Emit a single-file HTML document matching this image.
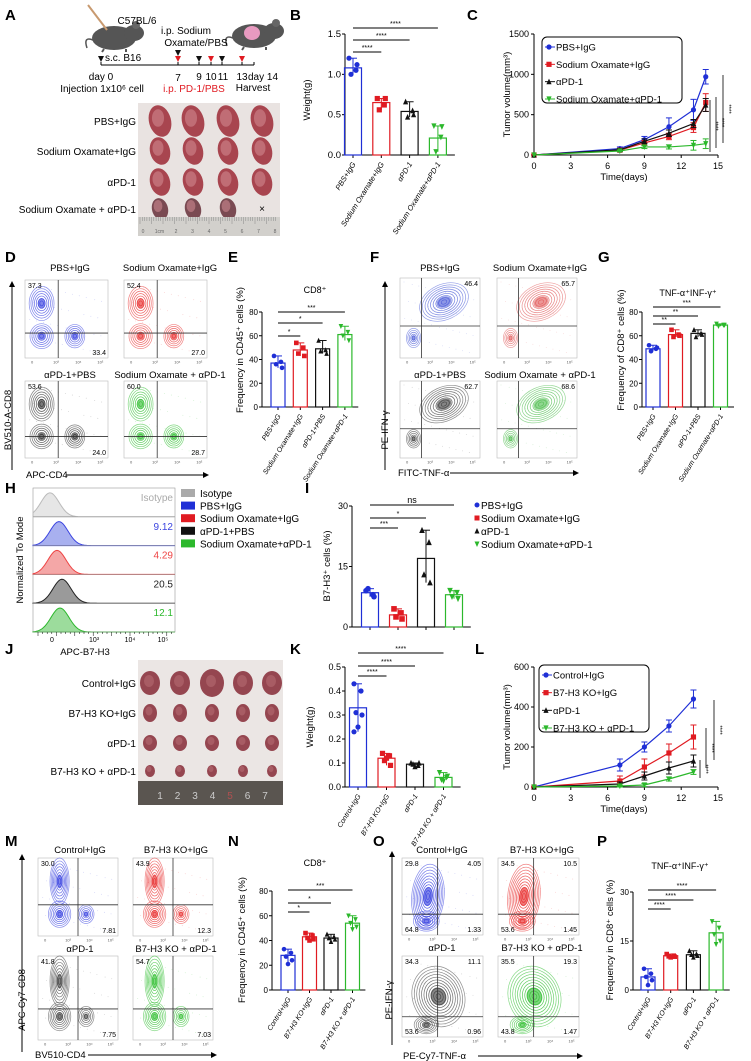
<!DOCTYPE html>
<html><head><meta charset="utf-8">
<style>
html,body{margin:0;padding:0;background:#fff;}
svg{display:block;font-family:"Liberation Sans",Arial,sans-serif;}
</style></head>
<body>
<svg id="fig" width="751" height="1061" viewBox="0 0 751 1061">
<defs>
<marker id="arr" markerWidth="6" markerHeight="6" refX="5" refY="3" orient="auto"><path d="M0,0 L6,3 L0,6 z" fill="#000"/></marker>
</defs>
</svg>
<script>
// ---------- DATA ----------
const colorsAll=['#1f2fd6','#e01b22','#111111','#2cb82c'];
const bCats=['PBS+IgG','Sodium Oxamate+IgG','αPD-1','Sodium Oxamate+αPD-1'];
const bValues=[1.08,0.65,0.54,0.21];
const bPoints=[[1.2,1.05,1.0,1.12],[0.7,0.62,0.56,0.7],[0.66,0.55,0.47,0.5],[0.36,0.22,0.04,0.35]];
const bTicks=[0,0.5,1.0,1.5];
const cDays=[0,7,9,11,13,14];
const cNames=['PBS+IgG','Sodium Oxamate+IgG','αPD-1','Sodium Oxamate+αPD-1'];
const cVals=[[0,80,190,350,560,970],[0,60,150,230,340,650],[0,65,170,270,390,620],[0,50,100,100,120,140]];
const cErr=[[0,20,40,110,130,90],[0,15,30,40,60,110],[0,15,30,40,50,80],[0,10,20,25,60,60]];
const cTicksY=[0,500,1000,1500];
const xTicks=[0,3,6,9,12,15];
const eCats=['PBS+IgG','Sodium Oxamate+IgG','αPD-1+PBS','Sodium Oxamate+αPD-1'];
const eValues=[37,48,49,61];
const ePoints=[[43,38,36,33],[54,50,45,43],[56,48,47,45],[68,63,60,56]];
const gValues=[49,61,62,69];
const gPoints=[[52,49,47,50],[65,61,59,60],[65,62,59,61],[70,69,68,69]];
const ticks80=[0,20,40,60,80];
const iValues=[8.5,3.0,17,8.0];
const iPoints=[[9,8,9.5,7.5],[4.5,3.5,2.5,2],[24,21,13,11],[9,8.5,7.5,7]];
const iTicks=[0,15,30];
const kCats=['Control+IgG','B7-H3 KO+IgG','αPD-1','B7-H3 KO + αPD-1'];
const kValues=[0.33,0.12,0.095,0.04];
const kPoints=[[0.43,0.4,0.31,0.3,0.25,0.23],[0.14,0.13,0.11,0.09,0.12],[0.1,0.09,0.095,0.1,0.085],[0.06,0.04,0.03,0.045,0.025]];
const kTicks=[0,0.1,0.2,0.3,0.4,0.5];
const lDays=[0,7,9,11,13];
const lNames=['Control+IgG','B7-H3 KO+IgG','αPD-1','B7-H3 KO + αPD-1'];
const lVals=[[0,110,200,305,440],[0,30,100,170,250],[0,15,55,95,130],[0,5,10,40,75]];
const lErr=[[0,30,25,30,45],[0,25,40,45,60],[0,10,20,30,30],[0,5,8,10,12]];
const lTicksY=[0,200,400,600];
const nValues=[28,43,42,54];
const nPoints=[[33,30,27,24,21],[46,44,42,41,40],[45,43,42,41,39],[60,57,54,51,49]];
const pValues=[4,10.5,10.8,17.5];
const pPoints=[[6.5,5,4,3,1.5],[11,10.5,10.3,10.2,10],[12,11,10.8,10.5,10],[21,19,17,15,14]];
const pTicks=[0,15,30];
const hLabels=['Isotype','9.12','4.29','20.5','12.1'];
const hColors=['#bbbbbb','#3b44e0','#ee4444','#222222','#2cb82c'];
const hFills=['#e6e6e6','#a8b0ef','#f4a7a7','#9a9a9a','#9cdc9c'];
// ---------- HELPERS ----------
const S='http://www.w3.org/2000/svg';
const svg=document.getElementById('fig');
function el(tag,attrs,parent,txt){const e=document.createElementNS(S,tag);for(const k in attrs)e.setAttribute(k,attrs[k]);if(txt!=null)e.textContent=txt;(parent||svg).appendChild(e);return e;}
function grp(name){const g=el('g',{});


return g;}
function txt(g,x,y,s,opt){opt=opt||{};const t=el('text',{x:x,y:y,'font-size':opt.fs||9,'text-anchor':opt.a||'start',fill:opt.c||'#000','font-weight':opt.w||'normal','font-style':opt.i||'normal',transform:opt.r?`rotate(${opt.r} ${x} ${y})`:''},g,s);return t;}
function panel(l,x,y){const g=grp('panel-label-'+l.toLowerCase());txt(g,x,y,l,{fs:15,w:'bold'});}
function marker(g,i,x,y,c,s){s=s||2.8;
 if(i===0)el('circle',{cx:x,cy:y,r:s,fill:c},g);
 else if(i===1)el('rect',{x:x-s,y:y-s,width:2*s,height:2*s,fill:c},g);
 else if(i===2)el('path',{d:`M${x},${y-s-0.5}L${x+s},${y+s}L${x-s},${y+s}z`,fill:c},g);
 else el('path',{d:`M${x},${y+s+0.5}L${x+s},${y-s}L${x-s},${y-s}z`,fill:c},g);}
function barChart(o){
 const g=grp(o.name);
 const ys=v=>o.y0-(v/o.vMax)*(o.y0-o.yTop);
 const cx=i=>o.x0+o.step*i;
 el('line',{x1:o.ax,y1:o.yTop,x2:o.ax,y2:o.y0,stroke:'#000','stroke-width':1},g);
 el('line',{x1:o.ax,y1:o.y0,x2:cx(o.values.length-1)+o.step*0.6,y2:o.y0,stroke:'#000','stroke-width':1},g);
 o.ticks.forEach(t=>{el('line',{x1:o.ax-3,y1:ys(t),x2:o.ax,y2:ys(t),stroke:'#000'},g);txt(g,o.ax-4,ys(t)+3,o.fmt(t),{fs:o.tfs||8.5,a:'end'});});
 o.values.forEach((v,i)=>{
  const c=colorsAll[i];
  el('line',{x1:cx(i),y1:o.y0,x2:cx(i),y2:o.y0+3,stroke:'#000'},g);
  const b=el('rect',{x:cx(i)-o.bw/2,y:ys(v),width:o.bw,height:o.y0-ys(v),fill:'none',stroke:c,'stroke-width':1.2},g);
  
  
  const p=o.points[i];const mx=Math.max(...p),mn=Math.min(...p);
  el('line',{x1:cx(i),y1:ys(mx),x2:cx(i),y2:ys(mn),stroke:c,'stroke-width':1},g);
  el('line',{x1:cx(i)-4,y1:ys(mx),x2:cx(i)+4,y2:ys(mx),stroke:c},g);
  const off=[-4,3,-2,4,0,-4];
  p.forEach((pv,j)=>marker(g,i,cx(i)+off[j%off.length],ys(pv),c,o.ms||2.6));
  if(o.cats)txt(g,cx(i)+3,o.y0+9,o.cats[i],{fs:o.cfs||7,a:'end',i:'italic',r:-58});
 });
 (o.sig||[]).forEach(s=>{const y=s[2];el('line',{x1:cx(s[0]),y1:y,x2:cx(s[1]),y2:y,stroke:'#000','stroke-width':1},g);txt(g,(cx(s[0])+cx(s[1]))/2,y-2,s[3],{fs:s[3]==='ns'?9:7,a:'middle'});});
 if(o.ytitle)txt(g,o.ytx,o.yty,o.ytitle,{fs:o.ytfs||9.5,a:'middle',r:-90});
 if(o.title)txt(g,o.tx,o.ty,o.title,{fs:9,a:'middle'});
}
function lineChart(o){
 const g=grp(o.name);
 const xs=d=>o.ax+d/15*(o.xEnd-o.ax);
 const ys=v=>o.y0-(v/o.vMax)*(o.y0-o.yTop);
 el('line',{x1:o.ax,y1:o.yTop,x2:o.ax,y2:o.y0,stroke:'#000'},g);
 el('line',{x1:o.ax,y1:o.y0,x2:o.xEnd,y2:o.y0,stroke:'#000'},g);
 o.yt.forEach(t=>{el('line',{x1:o.ax-3,y1:ys(t),x2:o.ax,y2:ys(t),stroke:'#000'},g);txt(g,o.ax-5,ys(t)+3,String(t),{fs:9,a:'end'});});
 xTicks.forEach(t=>{el('line',{x1:xs(t),y1:o.y0,x2:xs(t),y2:o.y0+3,stroke:'#000'},g);txt(g,xs(t),o.y0+14,String(t),{fs:9,a:'middle'});});
 txt(g,(o.ax+o.xEnd)/2-2,o.y0+25,'Time(days)',{fs:9.5,a:'middle'});
 txt(g,o.ax-24,(o.yTop+o.y0)/2,'Tumor volume(mm³)',{fs:9.5,a:'middle',r:-90});
 o.vals.forEach((vs,i)=>{const c=colorsAll[i];
  const pts=vs.map((v,j)=>xs(o.days[j])+','+ys(v)).join(' ');
  const pl=el('polyline',{points:pts,fill:'none',stroke:c,'stroke-width':1.2},g);
  
  
  vs.forEach((v,j)=>{const e=o.err[i][j];if(e>0){el('line',{x1:xs(o.days[j]),y1:ys(v+e),x2:xs(o.days[j]),y2:ys(v-e),stroke:c},g);el('line',{x1:xs(o.days[j])-3,y1:ys(v+e),x2:xs(o.days[j])+3,y2:ys(v+e),stroke:c},g);el('line',{x1:xs(o.days[j])-3,y1:ys(v-e),x2:xs(o.days[j])+3,y2:ys(v-e),stroke:c},g);}
   marker(g,i,xs(o.days[j]),ys(v),c,2.6);});
 });
 const lg=grp('legend');g.appendChild(lg);
 el('rect',{x:o.lx,y:o.ly,width:o.lw,height:o.lh,rx:5,fill:'#fff',stroke:'#000'},lg);
 o.names.forEach((n,i)=>{const y=o.ly+10+i*(o.lh-14)/3;el('line',{x1:o.lx+3,y1:y,x2:o.lx+13,y2:y,stroke:colorsAll[i]},lg);marker(lg,i,o.lx+7,y,colorsAll[i],2.6);txt(lg,o.lx+14,y+3.5,n,{fs:9.5});});
 o.sigs.forEach(s=>{el('line',{x1:s[0],y1:s[1],x2:s[0],y2:s[2],stroke:'#000','stroke-width':0.8},g);txt(g,s[0]+4,(s[1]+s[2])/2,'****',{fs:6,a:'middle',r:90});});
}
function flow(name,x,y,w,h,col,pops,qx,qy,labels){
 const g=grp(name);
 el('rect',{x:x,y:y,width:w,height:h,fill:'#fff',stroke:'#bbb','stroke-width':0.6},g);
 for(let k=0;k<40;k++){const fx=((k*37)%97)/97,fy=((k*53)%89)/89;el('circle',{cx:x+4+fx*(w-8),cy:y+4+fy*(h-8),r:0.4,fill:col,opacity:0.35},g);}
 pops.forEach(p=>{const n=p[4];for(let k=0;k<n;k++){const f=(k+1)/n;
  el('ellipse',{cx:x+p[0]*w,cy:y+p[1]*h,rx:p[2]*w*f,ry:p[3]*h*f,fill:'none',stroke:col,'stroke-width':0.7,opacity:0.6+0.4*(1-f),transform:`rotate(${p[5]||0} ${x+p[0]*w} ${y+p[1]*h})`},g);}
  el('ellipse',{cx:x+p[0]*w,cy:y+p[1]*h,rx:p[2]*w*0.3,ry:p[3]*h*0.3,fill:col,opacity:0.65,transform:`rotate(${p[5]||0} ${x+p[0]*w} ${y+p[1]*h})`},g);});
 if(qx!=null)el('line',{x1:x+qx*w,y1:y,x2:x+qx*w,y2:y+h,stroke:'#333','stroke-width':0.8},g);
 if(qy!=null)el('line',{x1:x,y1:y+qy*h,x2:x+w,y2:y+qy*h,stroke:'#333','stroke-width':0.8},g);
 if(labels[0])txt(g,x+3,y+8,labels[0],{fs:7});
 if(labels[1])txt(g,x+w-2,y+8,labels[1],{fs:7,a:'end'});
 if(labels[2])txt(g,x+3,y+h-3,labels[2],{fs:7});
 if(labels[3])txt(g,x+w-2,y+h-3,labels[3],{fs:7,a:'end'});
 ['0','10³','10⁴','10⁵'].forEach((t,i)=>txt(g,x+6+i*(w-10)/3.3,y+h+5.5,t,{fs:4,c:'#555'}));
}
// ---------- PANEL A ----------
panel('A',5,20);
(function(){const g=grp('experiment-schematic');
 function mouse(x,y,s,pink){el('ellipse',{cx:x,cy:y,rx:22*s,ry:12*s,fill:'#555'},g);el('ellipse',{cx:x+20*s,cy:y-5*s,rx:10*s,ry:8*s,fill:'#555'},g);el('circle',{cx:x+22*s,cy:y-13*s,r:4*s,fill:'#666'},g);
  el('path',{d:`M${x-21*s},${y+2*s} q-10,-4 -6,8`,stroke:'#555',fill:'none','stroke-width':1.5},g);
  el('line',{x1:x-10*s,y1:y+11*s,x2:x-12*s,y2:y+14*s,stroke:'#555','stroke-width':2},g);el('line',{x1:x+12*s,y1:y+11*s,x2:x+12*s,y2:y+14*s,stroke:'#555','stroke-width':2},g);
  if(pink)el('ellipse',{cx:x-2,cy:y-3,rx:8,ry:7,fill:'#e89ac0'},g);}
 mouse(114,38,1,false);mouse(254,36,1,true);
 el('line',{x1:88,y1:5,x2:107,y2:30,stroke:'#c89a70','stroke-width':2},g);
 txt(g,137,24,'C57BL/6',{fs:10,a:'middle'});
 txt(g,186,34,'i.p. Sodium',{fs:10,a:'middle'});
 txt(g,196,46,'Oxamate/PBS',{fs:10,a:'middle'});
 el('line',{x1:101,y1:65,x2:254,y2:65,stroke:'#000'},g);
 [[101,'k'],[178,'k'],[178,'r'],[199,'k'],[211,'r'],[222,'k'],[242,'r']].forEach((a,i)=>{
  const yy=(a[0]===178&&a[1]==='k')?50:56;
  el('path',{d:`M${a[0]-3},${yy} L${a[0]+3},${yy} L${a[0]},${yy+6} z`,fill:a[1]==='k'?'#111':'#e01b22'},g);});
 [101,178,199,211,222,242,254].forEach(x=>el('line',{x1:x,y1:62,x2:x,y2:65,stroke:'#000'},g));
 txt(g,105,61,'s.c. B16',{fs:10});
 txt(g,101,80,'day 0',{fs:10,a:'middle'});
 txt(g,178,81,'7',{fs:10,a:'middle'});
 txt(g,199,80,'9',{fs:10,a:'middle'});txt(g,211,80,'10',{fs:10,a:'middle'});txt(g,223,80,'11',{fs:10,a:'middle'});
 txt(g,242,80,'13',{fs:10,a:'middle'});txt(g,263,80,'day 14',{fs:10,a:'middle'});
 txt(g,102,92,'Injection 1x10⁶ cell',{fs:10,a:'middle'});
 txt(g,194,92,'i.p. PD-1/PBS',{fs:10,a:'middle',c:'#e01b22'});
 txt(g,253,91,'Harvest',{fs:10,a:'middle'});
})();
(function(){const g=grp('tumor-photo-a');
 el('rect',{x:138,y:103,width:142,height:133,fill:'#e9e3e1'},g);
 const xs=[160,193,228,262],ys=[121,151,182,209],sz=[[11,16],[10,14],[10,14],[8,11]];
 ys.forEach((y,r)=>xs.forEach((x,c)=>{if(r===3&&c===3){txt(g,x,y+3,'×',{fs:10,a:'middle'});return;}
  el('ellipse',{cx:x,cy:y,rx:sz[r][0],ry:sz[r][1],fill:r===3?'#7a4a52':'#a8454f',transform:`rotate(-15 ${x} ${y})`},g);
  el('ellipse',{cx:x-2,cy:y-3,rx:sz[r][0]*0.55,ry:sz[r][1]*0.55,fill:'#d48e96',opacity:0.55},g);}));
 el('rect',{x:138,y:217,width:142,height:19,fill:'#d2d0cc'},g);
 for(let i=0;i<60;i++)el('line',{x1:140+i*2.3,y1:217,x2:140+i*2.3,y2:i%5?221:224,stroke:'#888','stroke-width':0.5},g);
 ['0','1cm','2','3','4','5','6','7','8'].forEach((t,i)=>txt(g,143+i*16.5,233,t,{fs:5,c:'#666',a:'middle'}));
 const L=['PBS+IgG','Sodium Oxamate+IgG','αPD-1','Sodium Oxamate + αPD-1'];
 L.forEach((t,i)=>txt(g,136,ys[i]+4,t,{fs:10,a:'end'}));
})();
// ---------- PANEL B ----------
panel('B',290,20);
barChart({name:'weight-bar-chart-b',ax:345,y0:155,yTop:34,vMax:1.5,ticks:bTicks,fmt:t=>t.toFixed(1),x0:353,step:28.3,bw:17,values:bValues,points:bPoints,cats:bCats,
 sig:[[0,1,52,'****'],[0,2,40,'****'],[0,3,28,'****']],ytitle:'Weight(g)',ytx:310,yty:100,tfs:9.5,cfs:7.5});
// ---------- PANEL C ----------
panel('C',467,20);
lineChart({name:'tumor-volume-chart-c',ax:534,xEnd:718,y0:155,yTop:34,vMax:1500,yt:cTicksY,days:cDays,vals:cVals,err:cErr,names:cNames,
 lx:542,ly:37,lw:140,lh:66,sigs:[[710,100,152],[716,97,148],[723,75,143]]});
// ---------- PANEL D ----------
panel('D',5,262);
(function(){const g=grp('flow-titles-d');
 txt(g,70,271,'PBS+IgG',{fs:9.5,a:'middle'});txt(g,170,271,'Sodium Oxamate+IgG',{fs:9.5,a:'middle'});
 txt(g,70,378,'αPD-1+PBS',{fs:9.5,a:'middle'});txt(g,170,378,'Sodium Oxamate + αPD-1',{fs:9.5,a:'middle'});
 el('line',{x1:12,y1:470,x2:12,y2:282,stroke:'#000','marker-end':'url(#arr)'},g);
 txt(g,11,420,'BV510-A-CD8',{fs:9.5,a:'middle',r:-90});
 txt(g,26,478,'APC-CD4',{fs:9.5});
 el('line',{x1:66,y1:475,x2:208,y2:475,stroke:'#000','marker-end':'url(#arr)'},g);})();
const dPops=[[0.2,0.3,0.15,0.22,7],[0.2,0.72,0.14,0.16,6],[0.6,0.72,0.12,0.15,6]];
flow('flow-d-pbs-igg',25,280,83,78,'#3b44e0',dPops,0.4,0.68,['37.3','','','33.4']);
flow('flow-d-so-igg',124,280,83,78,'#e83030',dPops,0.4,0.68,['52.4','','','27.0']);
flow('flow-d-apd1-pbs',25,381,83,77,'#333',dPops,0.4,0.72,['53.6','','','24.0']);
flow('flow-d-so-apd1',124,381,83,77,'#35c035',dPops,0.4,0.72,['60.0','','','28.7']);
// ---------- PANEL E ----------
panel('E',228,262);
barChart({name:'cd8-frequency-chart-e',ax:262,y0:407,yTop:312,vMax:80,ticks:ticks80,fmt:String,x0:278,step:22.3,bw:14,values:eValues,points:ePoints,cats:eCats,
 sig:[[0,1,336,'*'],[0,2,323,'*'],[0,3,312,'***']],ytitle:'Frequency in CD45⁺ cells (%)',ytx:243,yty:350,title:'CD8⁺',tx:315,ty:293,tfs:8,cfs:7,ms:2.3});
// ---------- PANEL F ----------
panel('F',370,262);
(function(){const g=grp('flow-titles-f');
 txt(g,440,271,'PBS+IgG',{fs:9.5,a:'middle'});txt(g,540,271,'Sodium Oxamate+IgG',{fs:9.5,a:'middle'});
 txt(g,440,378,'αPD-1+PBS',{fs:9.5,a:'middle'});txt(g,540,378,'Sodium Oxamate + αPD-1',{fs:9.5,a:'middle'});
 el('line',{x1:385,y1:470,x2:385,y2:282,stroke:'#000','marker-end':'url(#arr)'},g);
 txt(g,388,430,'PE-IFN-γ',{fs:9.5,a:'middle',r:-90});
 txt(g,398,476,'FITC-TNF-α',{fs:9.5});
 el('line',{x1:450,y1:473,x2:578,y2:473,stroke:'#000','marker-end':'url(#arr)'},g);})();
const fPops=[[0.55,0.3,0.32,0.22,9,-25],[0.17,0.75,0.09,0.12,5]];
flow('flow-f-pbs-igg',400,278,80,80,'#5060d8',fPops,0.27,0.6,['','46.4','','']);
flow('flow-f-so-igg',497,278,80,80,'#e26060',fPops,0.27,0.6,['','65.7','','']);
flow('flow-f-apd1-pbs',400,381,80,77,'#444',fPops,0.27,0.62,['','62.7','','']);
flow('flow-f-so-apd1',497,381,80,77,'#55c055',fPops,0.27,0.62,['','68.6','','']);
// ---------- PANEL G ----------
panel('G',598,262);
barChart({name:'tnf-ifn-frequency-chart-g',ax:642,y0:407,yTop:312,vMax:80,ticks:ticks80,fmt:String,x0:653,step:22.5,bw:14,values:gValues,points:gPoints,cats:eCats,
 sig:[[0,1,324,'**'],[0,2,316,'**'],[0,3,307,'***']],ytitle:'Frequency of CD8⁺ cells (%)',ytx:624,yty:350,title:'TNF-α⁺INF-γ⁺',tx:688,ty:296,tfs:8,cfs:7,ms:2.3});
// ---------- PANEL H ----------
panel('H',5,493);
(function(){const g=grp('histogram-h');
 const x0=33,x1=175,top=488,rh=28.8;const peaks=[50,59,57,62,60];
 el('rect',{x:x0,y:top,width:x1-x0,height:rh*5,fill:'none',stroke:'#999','stroke-width':0.6},g);
 hLabels.forEach((l,i)=>{const base=top+rh*(i+1);let d=`M${x0},${base}`;
  for(let xx=x0;xx<=x1;xx+=1.5){const z=(xx-peaks[i])/9;d+=` L${xx},${base-24*Math.exp(-z*z/2)}`;}
  const p=el('path',{d:d+` L${x1},${base} z`,fill:hFills[i],stroke:hColors[i],'stroke-width':1},g);
  
  
  el('line',{x1:x0,y1:base,x2:x1,y2:base,stroke:'#999','stroke-width':0.6},g);
  txt(g,x1-2,top+rh*i+13,l,{fs:10,a:'end',c:i===0?'#aaa':hColors[i]});});
 ['0','10³','10⁴','10⁵'].forEach((t,i)=>txt(g,[52,94,130,163][i],642,t,{fs:7,a:'middle'}));
 for(let i=0;i<30;i++)el('line',{x1:x0+5+i*4.6,y1:632,x2:x0+5+i*4.6,y2:i%4?634:636,stroke:'#000','stroke-width':0.5},g);
 txt(g,85,655,'APC-B7-H3',{fs:9.5,a:'middle'});
 txt(g,23,560,'Normalized To Mode',{fs:9.5,a:'middle',r:-90});
 const ln=['Isotype','PBS+IgG','Sodium Oxamate+IgG','αPD-1+PBS','Sodium Oxamate+αPD-1'];
 const lc=['#aaaaaa','#1f2fd6','#e01b22','#111','#2cb82c'];
 const lg=grp('legend-h');
 ln.forEach((t,i)=>{const y=494+i*12.6;el('rect',{x:181,y:y-5,width:14,height:8,fill:lc[i]},lg);txt(lg,200,y+3,t,{fs:10});});})();
// ---------- PANEL I ----------
panel('I',305,493);
barChart({name:'b7h3-frequency-chart-i',ax:352,y0:627,yTop:506,vMax:30,ticks:iTicks,fmt:String,x0:370,step:28,bw:17,values:iValues,points:iPoints,
 sig:[[0,1,528,'***'],[0,2,518,'*'],[0,3,505,'ns']],ytitle:'B7-H3⁺ cells (%)',ytx:330,yty:566,tfs:9,ms:2.8});
(function(){const lg=grp('legend-i');cNames.forEach((n,i)=>{const y=508+i*13;marker(lg,i,477,y-3,colorsAll[i],2.5);txt(lg,481,y+1,n,{fs:10});});})();
// ---------- PANEL J ----------
panel('J',5,654);
(function(){const g=grp('tumor-photo-j');
 el('rect',{x:138,y:660,width:145,height:145,fill:'#ebe6e4'},g);
 const xs=[150,180,212,243,272],ys=[683,713,743,771],rr=[[10,12],[7,9],[7,8],[5,6]];
 ys.forEach((y,r)=>xs.forEach((x,c)=>{el('ellipse',{cx:x,cy:y,rx:rr[r][0]+(c===2&&r===0?2:0),ry:rr[r][1]+(c===2&&r===0?2:0),fill:'#954650'},g);
  el('ellipse',{cx:x-1,cy:y-2,rx:rr[r][0]*0.5,ry:rr[r][1]*0.5,fill:'#b56a72',opacity:0.6},g);}));
 el('rect',{x:138,y:781,width:145,height:24,fill:'#5a5550'},g);
 ['1','2','3','4','5','6','7'].forEach((t,i)=>txt(g,160+i*17.5,799,t,{fs:10,c:i===4?'#b05050':'#ccc',a:'middle'}));
 lNames.forEach((t,i)=>txt(g,136,ys[i]+4,t,{fs:10,a:'end'}));})();
// ---------- PANEL K ----------
panel('K',290,654);
barChart({name:'weight-bar-chart-k',ax:345,y0:787,yTop:667,vMax:0.5,ticks:kTicks,fmt:t=>t.toFixed(1),x0:358,step:28.5,bw:17,values:kValues,points:kPoints,cats:kCats,
 sig:[[0,1,676,'****'],[0,2,666,'****'],[0,3,653,'****']],ytitle:'Weight(g)',ytx:313,yty:727,tfs:9,cfs:7,ms:2.6});
// ---------- PANEL L ----------
panel('L',475,654);
lineChart({name:'tumor-volume-chart-l',ax:534,xEnd:718,y0:787,yTop:667,vMax:600,yt:lTicksY,days:lDays,vals:lVals,err:lErr,names:lNames,
 lx:539,ly:665,lw:110,lh:67,sigs:[[700,760,778],[706,728,768],[714,700,760]]});
// ---------- PANEL M ----------
panel('M',5,846);
(function(){const g=grp('flow-titles-m');
 txt(g,80,853,'Control+IgG',{fs:9.5,a:'middle'});txt(g,176,853,'B7-H3 KO+IgG',{fs:9.5,a:'middle'});
 txt(g,80,952,'αPD-1',{fs:9.5,a:'middle'});txt(g,176,952,'B7-H3 KO + αPD-1',{fs:9.5,a:'middle'});
 el('line',{x1:22,y1:1052,x2:22,y2:855,stroke:'#000','marker-end':'url(#arr)'},g);
 txt(g,25,1000,'APC-Cy7-CD8',{fs:9.5,a:'middle',r:-90});
 txt(g,35,1058,'BV510-CD4',{fs:9.5});
 el('line',{x1:88,y1:1055,x2:216,y2:1055,stroke:'#000','marker-end':'url(#arr)'},g);})();
const mPops=[[0.27,0.3,0.12,0.3,8],[0.27,0.72,0.14,0.17,7],[0.6,0.72,0.1,0.12,5]];
flow('flow-m-control',38,858,80,78,'#3b44e0',mPops,0.5,0.6,['30.0','','','7.81']);
flow('flow-m-ko',133,858,80,78,'#e83030',mPops,0.5,0.6,['43.9','','','12.3']);
flow('flow-m-apd1',38,956,80,84,'#444',mPops,0.5,0.63,['41.8','','','7.75']);
flow('flow-m-ko-apd1',133,956,80,84,'#35c035',mPops,0.5,0.63,['54.7','','','7.03']);
// ---------- PANEL N ----------
panel('N',228,846);
barChart({name:'cd8-frequency-chart-n',ax:272,y0:990,yTop:891,vMax:80,ticks:ticks80,fmt:String,x0:288,step:21.5,bw:14,values:nValues,points:nPoints,cats:kCats,
 sig:[[0,1,912,'*'],[0,2,903,'*'],[0,3,890,'***']],ytitle:'Frequency in CD45⁺ cells (%)',ytx:245,yty:940,title:'CD8⁺',tx:315,ty:866,tfs:8,cfs:7,ms:2.3});
// ---------- PANEL O ----------
panel('O',373,846);
(function(){const g=grp('flow-titles-o');
 txt(g,442,853,'Control+IgG',{fs:9.5,a:'middle'});txt(g,542,853,'B7-H3 KO+IgG',{fs:9.5,a:'middle'});
 txt(g,442,951,'αPD-1',{fs:9.5,a:'middle'});txt(g,542,951,'B7-H3 KO + αPD-1',{fs:9.5,a:'middle'});
 el('line',{x1:392,y1:1045,x2:392,y2:852,stroke:'#000','marker-end':'url(#arr)'},g);
 txt(g,392,1000,'PE-IFN-γ',{fs:9.5,a:'middle',r:-90});
 txt(g,403,1059,'PE-Cy7-TNF-α',{fs:9.5});
 el('line',{x1:478,y1:1056,x2:582,y2:1056,stroke:'#000','marker-end':'url(#arr)'},g);})();
const oPops=[[0.32,0.5,0.2,0.42,11,5],[0.3,0.82,0.16,0.13,6]];
const oPops2=[[0.45,0.5,0.32,0.38,11,-20],[0.3,0.85,0.15,0.11,6]];
flow('flow-o-control',402,858,81,77,'#3b44e0',oPops,0.44,0.73,['29.8','4.05','64.8','1.33']);
flow('flow-o-ko',498,858,81,77,'#e83030',oPops,0.44,0.73,['34.5','10.5','53.6','1.45']);
flow('flow-o-apd1',402,956,81,81,'#444',oPops2,0.44,0.75,['34.3','11.1','53.6','0.96']);
flow('flow-o-ko-apd1',498,956,81,81,'#35c035',oPops2,0.44,0.75,['35.5','19.3','43.8','1.47']);
// ---------- PANEL P ----------
panel('P',597,846);
barChart({name:'tnf-ifn-frequency-chart-p',ax:633,y0:990,yTop:892,vMax:30,ticks:pTicks,fmt:String,x0:648,step:22.7,bw:14,values:pValues,points:pPoints,cats:kCats,
 sig:[[0,1,909,'****'],[0,2,900,'****'],[0,3,890,'****']],ytitle:'Frequency in CD8⁺ cells (%)',ytx:613,yty:940,title:'TNF-α⁺INF-γ⁺',tx:680,ty:869,tfs:8,cfs:7,ms:2.3});
</script>
</body></html>
